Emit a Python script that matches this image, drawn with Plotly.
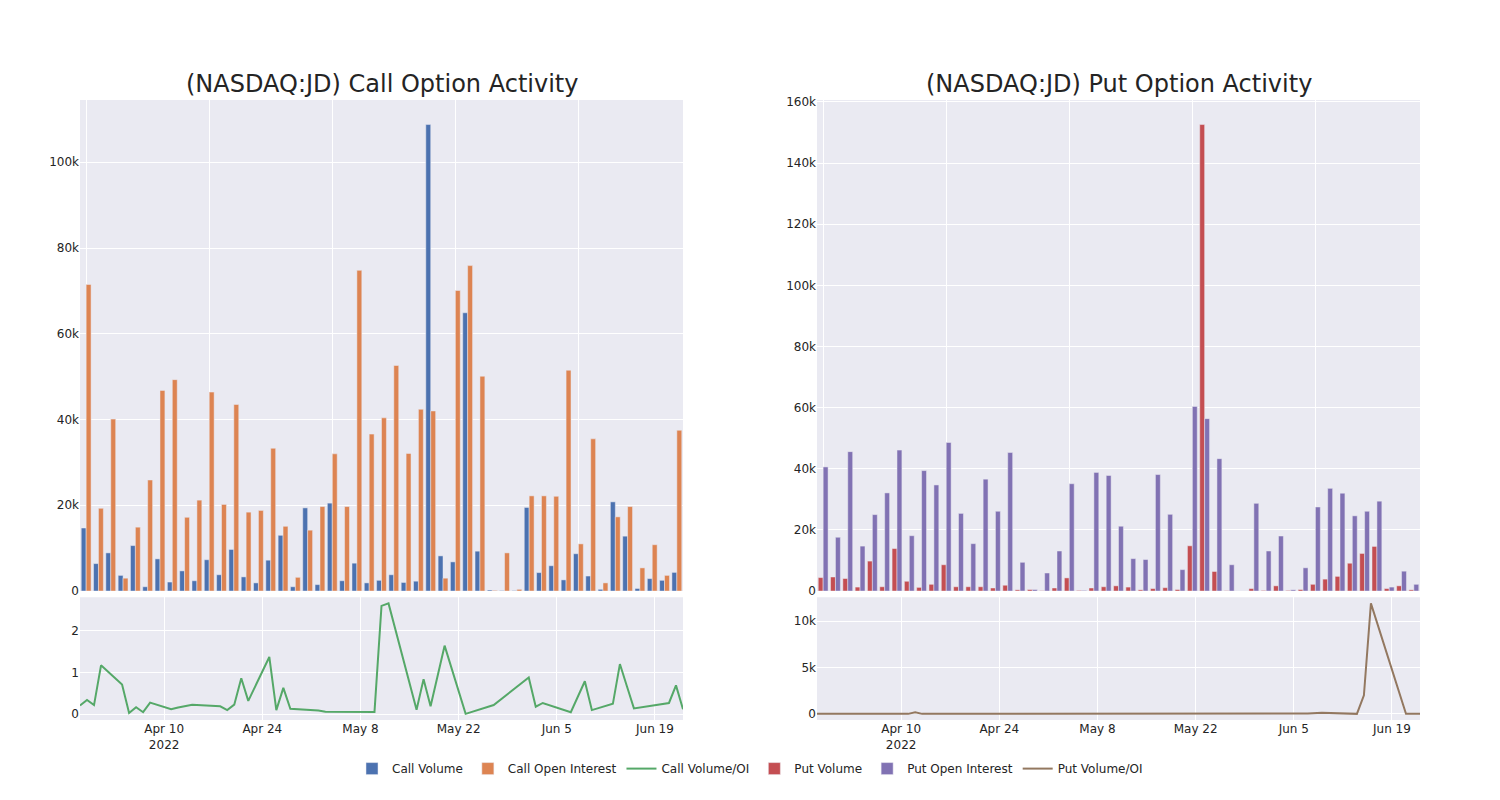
import plotly.graph_objects as go
from plotly.subplots import make_subplots

dates = [
    "2022-03-29", "2022-03-30", "2022-03-31", "2022-04-01", "2022-04-04", "2022-04-05",
    "2022-04-06", "2022-04-07", "2022-04-08", "2022-04-11", "2022-04-12", "2022-04-13",
    "2022-04-14", "2022-04-18", "2022-04-19", "2022-04-20", "2022-04-21", "2022-04-22",
    "2022-04-25", "2022-04-26", "2022-04-27", "2022-04-28", "2022-05-02", "2022-05-03",
    "2022-05-04", "2022-05-05", "2022-05-06", "2022-05-10", "2022-05-11", "2022-05-12",
    "2022-05-16", "2022-05-17", "2022-05-18", "2022-05-20", "2022-05-23", "2022-05-27",
    "2022-06-01", "2022-06-02", "2022-06-03", "2022-06-07", "2022-06-09", "2022-06-10",
    "2022-06-13", "2022-06-14", "2022-06-15", "2022-06-16", "2022-06-21", "2022-06-22",
    "2022-06-23",
]

call_volume = [14700, 6400, 8900, 3650, 10600, 1000, 7500, 2100, 4700, 2400, 7300, 3800,
               9700, 3300, 1900, 7200, 13000, 1000, 19400, 1500, 20500, 2400, 6500, 1900,
               2500, 3800, 2000, 2300, 108800, 8200, 6800, 64900, 9300, 250, 100, 90,
               19500, 4300, 5900, 2600, 8700, 3500, 400, 20800, 12800, 600, 2900, 2500,
               4350]
call_oi = [71500, 19300, 40100, 3000, 14900, 25900, 46800, 49300, 17200, 21200, 46400, 20200,
           43500, 18400, 18800, 33300, 15100, 3200, 14200, 19700, 32000, 19700, 74800, 36600,
           40400, 52600, 32100, 42400, 42000, 3000, 70100, 75900, 50100, 150, 8900, 400,
           22200, 22200, 22100, 51500, 11000, 35500, 1900, 17300, 19700, 5400, 10800, 3650,
           37500]
call_ratio = [0.21, 0.34, 0.22, 1.17, 0.71, 0.03, 0.17, 0.05, 0.28, 0.12, 0.16, 0.19,
              0.23, 0.19, 0.10, 0.23, 0.86, 0.32, 1.37, 0.10, 0.63, 0.13, 0.09, 0.06,
              0.06, 0.07, 0.06, 0.056, 2.59, 2.65, 0.11, 0.84, 0.19, 1.64, 0.01, 0.22,
              0.88, 0.18, 0.27, 0.05, 0.79, 0.10, 0.25, 1.20, 0.67, 0.14, 0.27, 0.69,
              0.12]

put_volume = [4400, 4600, 4100, 1300, 9800, 1400, 13900, 3200, 1200, 2200, 8600, 1400,
              1400, 1400, 1000, 1900, 400, 500, 100, 1000, 4300, 200, 1000, 1400,
              1700, 1300, 400, 800, 1100, 500, 14800, 152600, 6400, 100, 0, 800,
              200, 1700, 200, 500, 2200, 3900, 4800, 9100, 12300, 14600, 800, 1700,
              400]
put_oi = [40600, 17600, 45600, 14700, 25000, 32100, 46100, 18100, 39400, 34700, 48600, 25400,
          15500, 36600, 26100, 45300, 9400, 500, 5900, 13100, 35100, 200, 38800, 37800,
          21200, 10600, 10300, 38100, 25100, 7000, 60400, 56400, 43300, 8600, 0, 28700,
          13100, 18000, 400, 7600, 27500, 33600, 32000, 24600, 26100, 29400, 1300, 6500,
          2200]
put_ratio = [0.1, 0.3, 0.1, 0.1, 0.4, 0.0, 0.3, 0.2, 0.0, 0.1, 180, 0.1,
             0.1, 0.0, 0.0, 0.0, 0.0, 1.0, 0.0, 0.1, 0.1, 1.0, 0.0, 0.0,
             0.1, 0.1, 0.0, 0.0, 0.0, 0.1, 0.2, 2.7, 0.1, 0.0, 0.0, 0.0,
             0.0, 0.1, 0.5, 30, 120, 90, 20, 0.4, 2000, 11900, 0.6, 0.3,
             0.2]

titles = ["(NASDAQ:JD) Call Option Activity", "(NASDAQ:JD) Put Option Activity"]

fig = make_subplots(
    rows=2, cols=2,
    row_heights=[0.8, 0.2],
    vertical_spacing=0.01,
    horizontal_spacing=0.1,
    subplot_titles=(titles[0], titles[1], "", ""),
)

fig.add_trace(go.Bar(x=dates, y=call_volume, name="Call Volume"), row=1, col=1)
fig.add_trace(go.Bar(x=dates, y=call_oi, name="Call Open Interest"), row=1, col=1)
fig.add_trace(go.Scatter(x=dates, y=call_ratio, mode="lines", name="Call Volume/OI"), row=2, col=1)
fig.add_trace(go.Bar(x=dates, y=put_volume, name="Put Volume"), row=1, col=2)
fig.add_trace(go.Bar(x=dates, y=put_oi, name="Put Open Interest"), row=1, col=2)
fig.add_trace(go.Scatter(x=dates, y=put_ratio, mode="lines", name="Put Volume/OI"), row=2, col=2)

fig.update_xaxes(type="category", showticklabels=False, dtick=10, row=1, col=1)
fig.update_xaxes(type="category", showticklabels=False, dtick=10, row=1, col=2)
fig.update_xaxes(type="date", row=2, col=1)
fig.update_xaxes(type="date", row=2, col=2)

for ann in fig.layout.annotations:
    ann.font = dict(size=24, family="DejaVu Sans", color="rgb(36,36,36)")

fig.update_layout(
    template="seaborn",
    width=1500,
    height=800,
    margin=dict(l=72, r=88, t=92, b=88),
    font=dict(family="DejaVu Sans", size=12),
    barmode="group",
    legend=dict(orientation="h", x=0.5, xanchor="center", y=-0.055, yanchor="top"),
)

fig.write_html("out.html")
